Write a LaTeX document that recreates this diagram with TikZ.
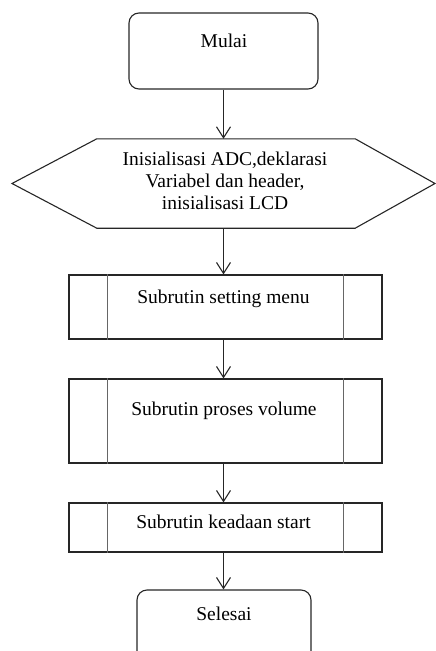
\documentclass[tikz,border=0pt]{standalone}
\usepackage{fontspec}
\setmainfont{Liberation Serif}
\usetikzlibrary{arrows.meta}
\begin{document}
\begin{tikzpicture}[x=1pt,y=-1pt,
  line/.style={draw=black!85,line width=1.1pt},
  term/.style={line,rounded corners=10pt,inner sep=0pt},
  procbox/.style={line,inner sep=0pt,minimum width=313pt},
  txt/.style={anchor=base,inner sep=0pt,font=\fontsize{19.5}{22}\selectfont},
  arr/.style={draw=black!85,line width=1.1pt,-{Straight Barb[length=11pt,width=14pt,line width=1.1pt]}},
  inner/.style={draw=black!60,line width=1.3pt}]
\useasboundingbox (0,0) rectangle (436,651);
\clip (0,0) rectangle (436,651);
% shapes
\node[term,minimum width=189pt,minimum height=76pt] (start) at (223.5,51) {};
\node[inner sep=0pt,minimum width=258pt,minimum height=89pt] (init) at (226,183.5) {};
\coordinate (initL) at (12,183.5);
\coordinate (initR) at (435,183.5);
\draw[line] (init.north west) -- (init.north east) -- (initR) -- (init.south east)
  -- (init.south west) -- (initL) -- cycle;
\node[procbox,minimum height=64pt] (s1) at (225.5,307) {};
\node[procbox,minimum height=84pt] (s2) at (225.5,421) {};
\node[procbox,minimum height=49pt] (s3) at (225.5,527.5) {};
\foreach \n in {s1,s2,s3}{
  \draw[inner] ([xshift=39pt]\n.north west) -- ([xshift=39pt]\n.south west);
  \draw[inner] ([xshift=-39pt]\n.north east) -- ([xshift=-39pt]\n.south east);
}
\node[term,minimum width=174pt,minimum height=72pt] (end) at (224,626) {};
% texts
\node[txt] (tstart) at (224,47) {Mulai};
\node[txt] (hl1) at (225,165) {Inisialisasi ADC,deklarasi};
\node[txt] (hl2) at (225,187) {Variabel dan header,};
\node[txt] (hl3) at (225,209) {inisialisasi LCD};
\node[txt] (ts1) at (223.5,303) {Subrutin setting menu};
\node[txt] (ts2) at (224,415) {Subrutin proses volume};
\node[txt] (ts3) at (223.5,528) {Subrutin keadaan start};
\node[txt] (tend) at (224,620) {Selesai};
% connectors
\draw[arr] (start.south) -- (start.south |- init.north);
\draw[arr] (start.south |- init.south) -- (start.south |- s1.north);
\draw[arr] (start.south |- s1.south) -- (start.south |- s2.north);
\draw[arr] (start.south |- s2.south) -- (start.south |- s3.north);
\draw[arr] (start.south |- s3.south) -- (start.south |- end.north);
\end{tikzpicture}
\end{document}
